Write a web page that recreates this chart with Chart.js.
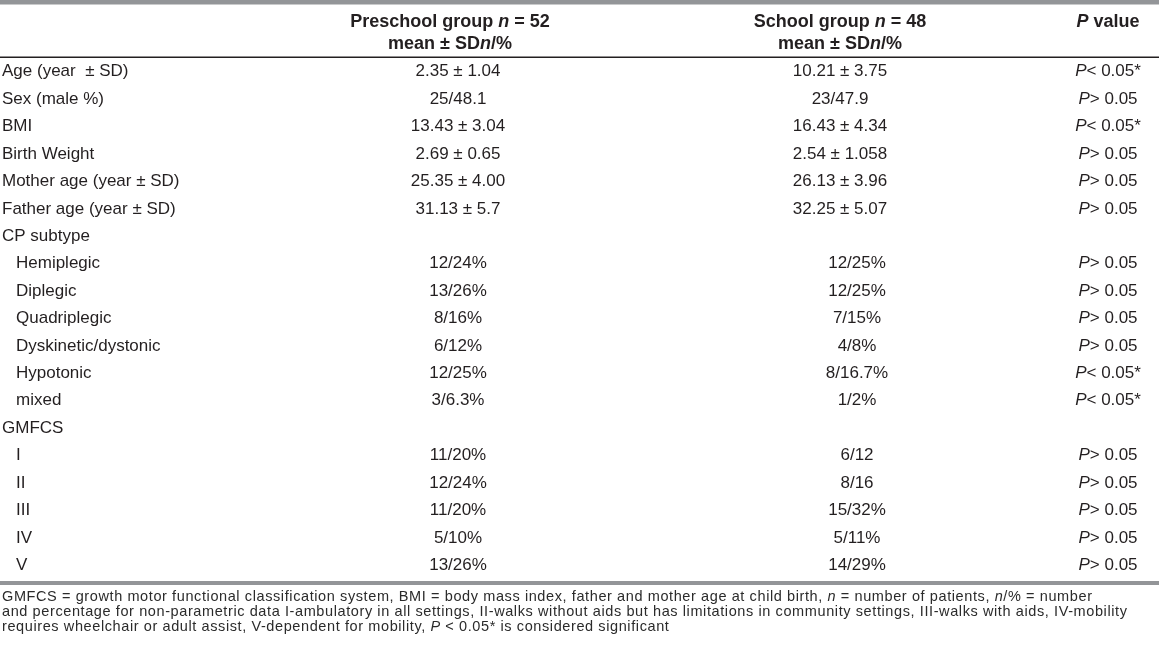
<!DOCTYPE html>
<html>
<head>
<meta charset="utf-8">
<script src="https://cdn.jsdelivr.net/npm/chart.js@4/dist/chart.umd.min.js"></script>
<style>
  body { margin: 0; background: #fff; }
  canvas { display: block; }
</style>
</head>
<body>
<canvas id="tableChart" width="1159" height="648"></canvas>
<script>
// table content ( _x_ marks italic text )
const rowLabels = ['Age (year  ± SD)', 'Sex (male %)', 'BMI', 'Birth Weight', 'Mother age (year ± SD)',
    'Father age (year ± SD)', 'CP subtype', 'Hemiplegic', 'Diplegic', 'Quadriplegic',
    'Dyskinetic/dystonic', 'Hypotonic', 'mixed', 'GMFCS', 'I', 'II', 'III', 'IV', 'V'];
const preschoolValues = ['2.35 ± 1.04', '25/48.1', '13.43 ± 3.04', '2.69 ± 0.65', '25.35 ± 4.00',
    '31.13 ± 5.7', null, '12/24%', '13/26%', '8/16%', '6/12%', '12/25%', '3/6.3%', null,
    '11/20%', '12/24%', '11/20%', '5/10%', '13/26%'];
const schoolValues = ['10.21 ± 3.75', '23/47.9', '16.43 ± 4.34', '2.54 ± 1.058', '26.13 ± 3.96',
    '32.25 ± 5.07', null, '12/25%', '12/25%', '7/15%', '4/8%', '8/16.7%', '1/2%', null,
    '6/12', '8/16', '15/32%', '5/11%', '14/29%'];
const pValues = ['_P_< 0.05*', '_P_> 0.05', '_P_< 0.05*', '_P_> 0.05', '_P_> 0.05', '_P_> 0.05', null,
    '_P_> 0.05', '_P_> 0.05', '_P_> 0.05', '_P_> 0.05', '_P_< 0.05*', '_P_< 0.05*', null,
    '_P_> 0.05', '_P_> 0.05', '_P_> 0.05', '_P_> 0.05', '_P_> 0.05'];
const headerPreschool = ['Preschool group _n_ = 52', 'mean ± SD_n_/%'];
const headerSchool = ['School group _n_ = 48', 'mean ± SD_n_/%'];
const headerP = ['_P_ value'];
const footnoteLines = [
    'GMFCS = growth motor functional classification system, BMI = body mass index, father and mother age at child birth, _n_ = number of patients, _n_/% = number',
    'and percentage for non-parametric data I-ambulatory in all settings, II-walks without aids but has limitations in community settings, III-walks with aids, IV-mobility',
    'requires wheelchair or adult assist, V-dependent for mobility, _P_ < 0.05* is considered significant'
];

// column anchors (pixels along the x scale)
const cols = { label: 2, indent: 16, preschool: 458, school: 840, schoolSub: 857, p: 1108 };
const textColor = '#231f20';
const ruleGrey = '#939598';
const bodyFont = '"Liberation Sans", Arial, sans-serif';

// rows that follow a section heading (a row with no values) are indented
function isSubRow(i) {
    if (preschoolValues[i] == null) return false;
    for (let k = 0; k < i; k++) {
        if (preschoolValues[k] == null) return true;
    }
    return false;
}

function fontStr(size, bold, italic) {
    return (italic ? 'italic ' : '') + (bold ? 'bold ' : '') + size + 'px ' + bodyFont;
}

// draw text with _italic_ parts
function drawRich(ctx, text, x, y, align, size, bold, spacing) {
    const parts = text.split('_');
    ctx.letterSpacing = (spacing || 0) + 'px';
    let total = 0;
    parts.forEach((p, i) => {
        ctx.font = fontStr(size, bold, i % 2 === 1);
        total += ctx.measureText(p).width;
    });
    let cx = x;
    if (align === 'center') cx = x - total / 2;
    if (align === 'right') cx = x - total;
    ctx.textAlign = 'left';
    ctx.textBaseline = 'middle';
    parts.forEach((p, i) => {
        ctx.font = fontStr(size, bold, i % 2 === 1);
        ctx.fillText(p, cx, y);
        cx += ctx.measureText(p).width;
    });
    ctx.letterSpacing = '0px';
}

function makeColumn(values, xFor, align) {
    return {
        data: rowLabels.map((r, i) => ({ x: xFor(i), y: r })),
        texts: values,
        textAlign: align,
        pointRadius: 0,
        showLine: false
    };
}

const tablePlugin = {
    id: 'tablePlugin',
    beforeDraw(chart) {
        const ctx = chart.ctx;
        ctx.save();
        ctx.fillStyle = '#fff';
        ctx.fillRect(0, 0, chart.width, chart.height);
        ctx.restore();
    },
    afterDatasetsDraw(chart) {
        const ctx = chart.ctx;
        const area = chart.chartArea;
        const x = chart.scales.x;
        ctx.save();
        ctx.fillStyle = textColor;

        // cells
        chart.data.datasets.forEach((ds, di) => {
            const meta = chart.getDatasetMeta(di);
            meta.data.forEach((el, i) => {
                if (ds.texts[i] == null) return;
                drawRich(ctx, ds.texts[i], el.x, el.y + 1, ds.textAlign, 17, false, 0);
            });
        });

        // header
        const h1 = area.top - 35, h2 = area.top - 13;
        drawRich(ctx, headerPreschool[0], x.getPixelForValue(450), h1, 'center', 18, true, 0);
        drawRich(ctx, headerPreschool[1], x.getPixelForValue(450), h2, 'center', 18, true, 0);
        drawRich(ctx, headerSchool[0], x.getPixelForValue(cols.school), h1, 'center', 18, true, 0);
        drawRich(ctx, headerSchool[1], x.getPixelForValue(cols.school), h2, 'center', 18, true, 0);
        drawRich(ctx, headerP[0], x.getPixelForValue(cols.p), h1, 'center', 18, true, 0);

        // rules
        ctx.fillStyle = ruleGrey;
        ctx.fillRect(0, 0, chart.width, 4.5);
        ctx.fillRect(0, area.bottom + 3, chart.width, 4);
        ctx.fillStyle = textColor;
        ctx.fillRect(0, area.top - 0.5, chart.width, 1.5);

        // footnote
        ctx.fillStyle = '#2b2b2b';
        footnoteLines.forEach((line, i) => {
            drawRich(ctx, line, 2, area.bottom + 19 + i * 15, 'left', 14.5, false, 0.6);
        });
        ctx.restore();
    }
};

new Chart(document.getElementById('tableChart'), {
    type: 'scatter',
    data: {
        labels: rowLabels,
        datasets: [
            makeColumn(rowLabels, i => isSubRow(i) ? cols.indent : cols.label, 'left'),
            makeColumn(preschoolValues, () => cols.preschool, 'center'),
            makeColumn(schoolValues, i => isSubRow(i) ? cols.schoolSub : cols.school, 'center'),
            makeColumn(pValues, () => cols.p, 'center')
        ]
    },
    options: {
        responsive: false,
        animation: false,
        layout: { padding: { top: 57, bottom: 70, left: 0, right: 0 } },
        plugins: { legend: { display: false }, tooltip: { enabled: false } },
        scales: {
            x: { type: 'linear', min: 0, max: 1159, display: false },
            y: { type: 'category', labels: rowLabels, offset: true, display: false }
        }
    },
    plugins: [tablePlugin]
});
</script>
</body>
</html>
